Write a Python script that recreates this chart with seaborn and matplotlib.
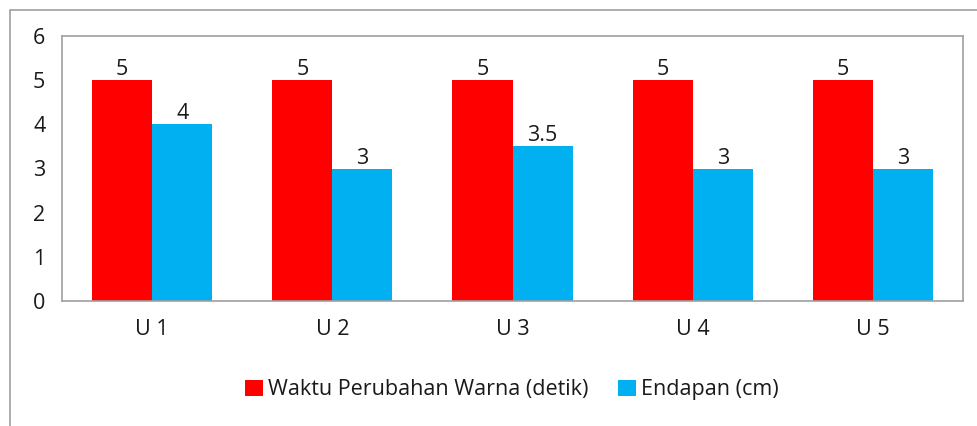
import matplotlib
matplotlib.use("Agg")
import matplotlib.pyplot as plt
import seaborn as sns
import pandas as pd
from matplotlib.patches import Rectangle, Patch

categories = ["U 1", "U 2", "U 3", "U 4", "U 5"]
waktu = [5, 5, 5, 5, 5]
endapan = [4, 3, 3.5, 3, 3]
series_names = ["Waktu Perubahan Warna (detik)", "Endapan (cm)"]
colors = ["#FF0000", "#00B0F0"]
yticks = [0, 1, 2, 3, 4, 5, 6]

sns.set_theme(style="white")
plt.rcParams["font.family"] = ["Open Sans", "DejaVu Sans"]
FS = 15.5

df = pd.DataFrame({
    "cat": categories * 2,
    "val": waktu + endapan,
    "series": [series_names[0]] * 5 + [series_names[1]] * 5,
})

fig = plt.figure(figsize=(9.78, 4.26), dpi=100)
ax = fig.add_axes([62 / 978, 1 - 301 / 426, (963 - 62) / 978, (301 - 36) / 426])

sns.barplot(data=df, x="cat", y="val", hue="series", palette=colors,
            width=0.667, gap=0, saturation=1, ax=ax, legend=False,
            linewidth=0)

ax.set_ylim(0, 6)
ax.set_yticks(yticks)
ax.set_xlim(-0.5, 4.5)
ax.set_xlabel("")
ax.set_ylabel("")
ax.tick_params(axis="both", length=0, labelsize=FS, colors="#1a1a1a")
ax.tick_params(axis="x", pad=13)
ax.tick_params(axis="y", pad=12)
for s in ax.spines.values():
    s.set_visible(True)
    s.set_color("#A0A0A0")
    s.set_linewidth(1.2)

for cont in ax.containers:
    labels = [f"{b.get_height():g}" for b in cont]
    ax.bar_label(cont, labels=labels, padding=0, fontsize=FS, color="#1a1a1a")

handles = [Patch(facecolor=c, edgecolor="none") for c in colors]
fig.legend(handles, series_names, loc="center", bbox_to_anchor=(512 / 978, 1 - 390 / 426),
           ncol=2, frameon=False, fontsize=FS, handlelength=0.8, handleheight=0.8,
           handletextpad=0.25, columnspacing=1.4, labelcolor="#1a1a1a")

fig.patches.append(Rectangle((10 / 978, -0.1), 1.2, 1 - 10 / 426 + 0.1, transform=fig.transFigure,
                             fill=False, edgecolor="#A0A0A0", linewidth=1.2))

fig.savefig("out.png", dpi=100)
